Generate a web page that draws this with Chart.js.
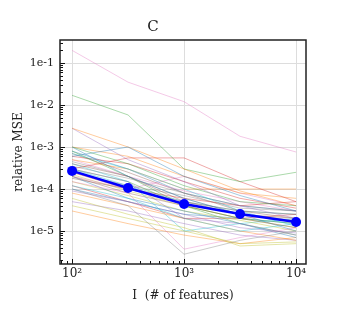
<!DOCTYPE html>
<html>
<head>
<meta charset="utf-8">
<script src="https://cdn.jsdelivr.net/npm/chart.js@4"></script>
<style>
  html, body { margin: 0; padding: 0; background: #fff; }
</style>
</head>
<body>
<canvas id="mseChart" width="344" height="331"></canvas>
<script>
// x positions (number of features)
const features = [100, 316, 1000, 3162, 10000];
// thick blue line: mean relative MSE
const meanMSE = [2.7e-4, 1.06e-4, 4.4e-5, 2.54e-5, 1.64e-5];
// thin lines: individual runs
const runs = [
  [6e-4, 1e-3, 2e-4, 7e-5, 3e-5],
  [2.8e-3, 1e-3, 3e-4, 9e-5, 4e-5],
  [1.7e-2, 5.8e-3, 3e-4, 1.5e-4, 2.5e-4],
  [3e-4, 5.5e-4, 5.5e-4, 1.5e-4, 5e-5],
  [2.8e-3, 5e-4, 1.5e-4, 4e-5, 2e-5],
  [2e-4, 8e-5, 4e-5, 2e-5, 1.2e-5],
  [2e-1, 3.5e-2, 1.2e-2, 1.8e-3, 7.6e-4],
  [1e-4, 4e-5, 2.8e-6, 6e-6, 1e-5],
  [4e-5, 2e-5, 1e-5, 5e-6, 5.5e-6],
  [7e-4, 3e-4, 1e-4, 3e-5, 1.3e-5],
  [1e-3, 2e-4, 6e-5, 2.5e-5, 1e-5],
  [5e-4, 3e-4, 1e-4, 1e-4, 1e-4],
  [1e-3, 4e-4, 1.2e-4, 5e-5, 4e-5],
  [2.5e-4, 1e-4, 6e-5, 4e-5, 5e-5],
  [3e-4, 1.5e-4, 2e-5, 1.5e-5, 8e-6],
  [4e-4, 2e-4, 5e-5, 3e-5, 2.5e-5],
  [1.5e-4, 8e-5, 3.7e-6, 7e-6, 1.2e-5],
  [3.5e-4, 1.8e-4, 8e-5, 4e-5, 3e-5],
  [6e-5, 2.5e-5, 1.2e-5, 4.4e-6, 5e-6],
  [1.2e-4, 6e-5, 2e-5, 1e-5, 1.5e-5],
  [2e-4, 6e-5, 3e-5, 1.5e-5, 7e-6],
  [8e-5, 4e-5, 2e-5, 1e-5, 6e-6],
  [8e-4, 2e-4, 4e-5, 2e-5, 1.5e-5],
  [6e-4, 4e-4, 1.5e-4, 6e-5, 3.5e-5],
  [9e-5, 5e-5, 2.5e-5, 1.2e-5, 9e-6],
  [1.8e-4, 1e-4, 5e-5, 2.5e-5, 2e-5],
  [5e-4, 2e-4, 9e-5, 5e-5, 3e-5],
  [2.5e-4, 1.2e-4, 7e-5, 3.5e-5, 3e-5],
  [1.5e-4, 7e-5, 3e-5, 1.8e-5, 1e-5],
  [4e-4, 1.5e-4, 1e-5, 1.5e-5, 2e-5],
  [1e-4, 5e-5, 2.5e-5, 2e-5, 1.5e-5],
  [1e-3, 6e-4, 2e-4, 8e-5, 6e-5],
  [3e-4, 1.5e-4, 4e-5, 1.5e-5, 8e-6],
  [1.2e-4, 5e-5, 2e-5, 2e-5, 2.5e-5],
  [5e-5, 3e-5, 1.5e-5, 8e-6, 6e-6],
  [7e-4, 2.5e-4, 8e-5, 3e-5, 2e-5],
  [2e-4, 1e-4, 2e-4, 8e-5, 4e-5],
  [4.5e-4, 2e-4, 6e-5, 2.5e-5, 1.8e-5],
  [2.2e-4, 9e-5, 4e-5, 2e-5, 1.2e-5],
  [3e-4, 1.2e-4, 5e-5, 3e-5, 2.5e-5],
  [8e-4, 3e-4, 8e-5, 4e-5, 3e-5],
  [3e-5, 1.5e-5, 8e-6, 5e-6, 7e-6]
];
const runColors = ['#1f77b4', '#ff7f0e', '#2ca02c', '#d62728', '#9467bd',
                   '#8c564b', '#e377c2', '#7f7f7f', '#bcbd22', '#17becf'];
const xLabelTicks = [100, 1000, 10000];
const yLabelTicks = [1e-1, 1e-2, 1e-3, 1e-4, 1e-5];

const X_MIN = 78, X_MAX = 12270;
const Y_MIN = 1.64e-6, Y_MAX = 0.353;
const FONT = "'DejaVu Serif', serif";

function logTicks(min, max) {
  const out = [];
  for (let e = Math.floor(Math.log10(min)); e <= Math.ceil(Math.log10(max)); e++) {
    for (let m = 1; m < 10; m++) {
      const v = m * Math.pow(10, e);
      if (v >= min * 0.999 && v <= max * 1.001) out.push(v);
    }
  }
  return out;
}
function isDecade(v) {
  return Math.abs(Math.log10(v) - Math.round(Math.log10(v))) < 1e-6;
}
const sup = { '0': '⁰', '1': '¹', '2': '²', '3': '³', '4': '⁴', '-': '⁻' };

function toRgba(hex, a) {
  const n = parseInt(hex.slice(1), 16);
  return `rgba(${n >> 16},${(n >> 8) & 255},${n & 255},${a})`;
}

const datasets = [{
  data: features.map((x, i) => ({ x: x, y: meanMSE[i] })),
  borderColor: '#0000ff',
  backgroundColor: '#0000ff',
  borderWidth: 2.5,
  pointRadius: 5,
  pointBorderWidth: 0,
  order: 0
}];
runs.forEach((r, k) => {
  datasets.push({
    data: features.map((x, i) => ({ x: x, y: r[i] })),
    borderColor: toRgba(runColors[k % 10], 0.5),
    borderWidth: 0.8,
    pointRadius: 0,
    order: 1
  });
});

// inward tick marks + black frame
const framePlugin = {
  id: 'frame',
  afterDraw(chart) {
    const { ctx, chartArea: a, scales } = chart;
    ctx.save();
    ctx.strokeStyle = '#111';
    ctx.lineWidth = 1;
    scales.x.ticks.forEach(t => {
      const px = Math.round(scales.x.getPixelForValue(t.value)) + 0.5;
      const len = isDecade(t.value) ? 5 : 3;
      ctx.beginPath(); ctx.moveTo(px, a.bottom); ctx.lineTo(px, a.bottom - len); ctx.stroke();
    });
    scales.y.ticks.forEach(t => {
      const py = Math.round(scales.y.getPixelForValue(t.value)) + 0.5;
      const len = isDecade(t.value) ? 5 : 3;
      ctx.beginPath(); ctx.moveTo(a.left, py); ctx.lineTo(a.left + len, py); ctx.stroke();
    });
    ctx.lineWidth = 1.5;
    ctx.strokeStyle = '#222';
    ctx.strokeRect(a.left, a.top, a.right - a.left, a.bottom - a.top);
    ctx.restore();
  }
};

new Chart(document.getElementById('mseChart').getContext('2d'), {
  type: 'line',
  data: { datasets: datasets },
  options: {
    responsive: false,
    animation: false,
    layout: { padding: { left: 0, right: 38, top: 0, bottom: 0 } },
    plugins: {
      legend: { display: false },
      tooltip: { enabled: false },
      title: {
        display: true,
        text: 'C',
        color: '#222',
        font: { family: FONT, size: 15, weight: 'normal' },
        padding: { top: 18, bottom: 4 }
      }
    },
    scales: {
      x: {
        type: 'logarithmic',
        min: X_MIN,
        max: X_MAX,
        afterBuildTicks: s => { s.ticks = logTicks(X_MIN, X_MAX).map(v => ({ value: v })); },
        afterFit: s => { s.height = 67; },
        grid: {
          drawTicks: false,
          color: c => (c.tick && isDecade(c.tick.value)) ? '#dddddd' : 'rgba(0,0,0,0)',
          lineWidth: 1
        },
        border: { display: false },
        ticks: {
          autoSkip: false,
          maxRotation: 0,
          padding: 3,
          color: '#222',
          font: { family: FONT, size: 12 },
          callback: v => xLabelTicks.includes(v) ? '10' + String(Math.round(Math.log10(v))).split('').map(c => sup[c]).join('') : ''
        },
        title: {
          display: true,
          text: 'I  (# of features)',
          color: '#222',
          font: { family: FONT, size: 12 },
          padding: { top: 4, bottom: 28 }
        }
      },
      y: {
        type: 'logarithmic',
        min: Y_MIN,
        max: Y_MAX,
        afterBuildTicks: s => { s.ticks = logTicks(Y_MIN, Y_MAX).map(v => ({ value: v })); },
        afterFit: s => { s.width = 60; },
        grid: {
          drawTicks: false,
          color: c => (c.tick && isDecade(c.tick.value)) ? '#dddddd' : 'rgba(0,0,0,0)',
          lineWidth: 1
        },
        border: { display: false },
        ticks: {
          autoSkip: false,
          padding: 6,
          color: '#222',
          font: { family: FONT, size: 11 },
          callback: v => yLabelTicks.some(t => Math.abs(t - v) / t < 1e-6) ? '1e' + Math.round(Math.log10(v)) : ''
        },
        title: {
          display: true,
          text: 'relative MSE',
          color: '#222',
          font: { family: FONT, size: 12 },
          padding: { top: 12, bottom: 4 }
        }
      }
    }
  },
  plugins: [framePlugin]
});
</script>
</body>
</html>
